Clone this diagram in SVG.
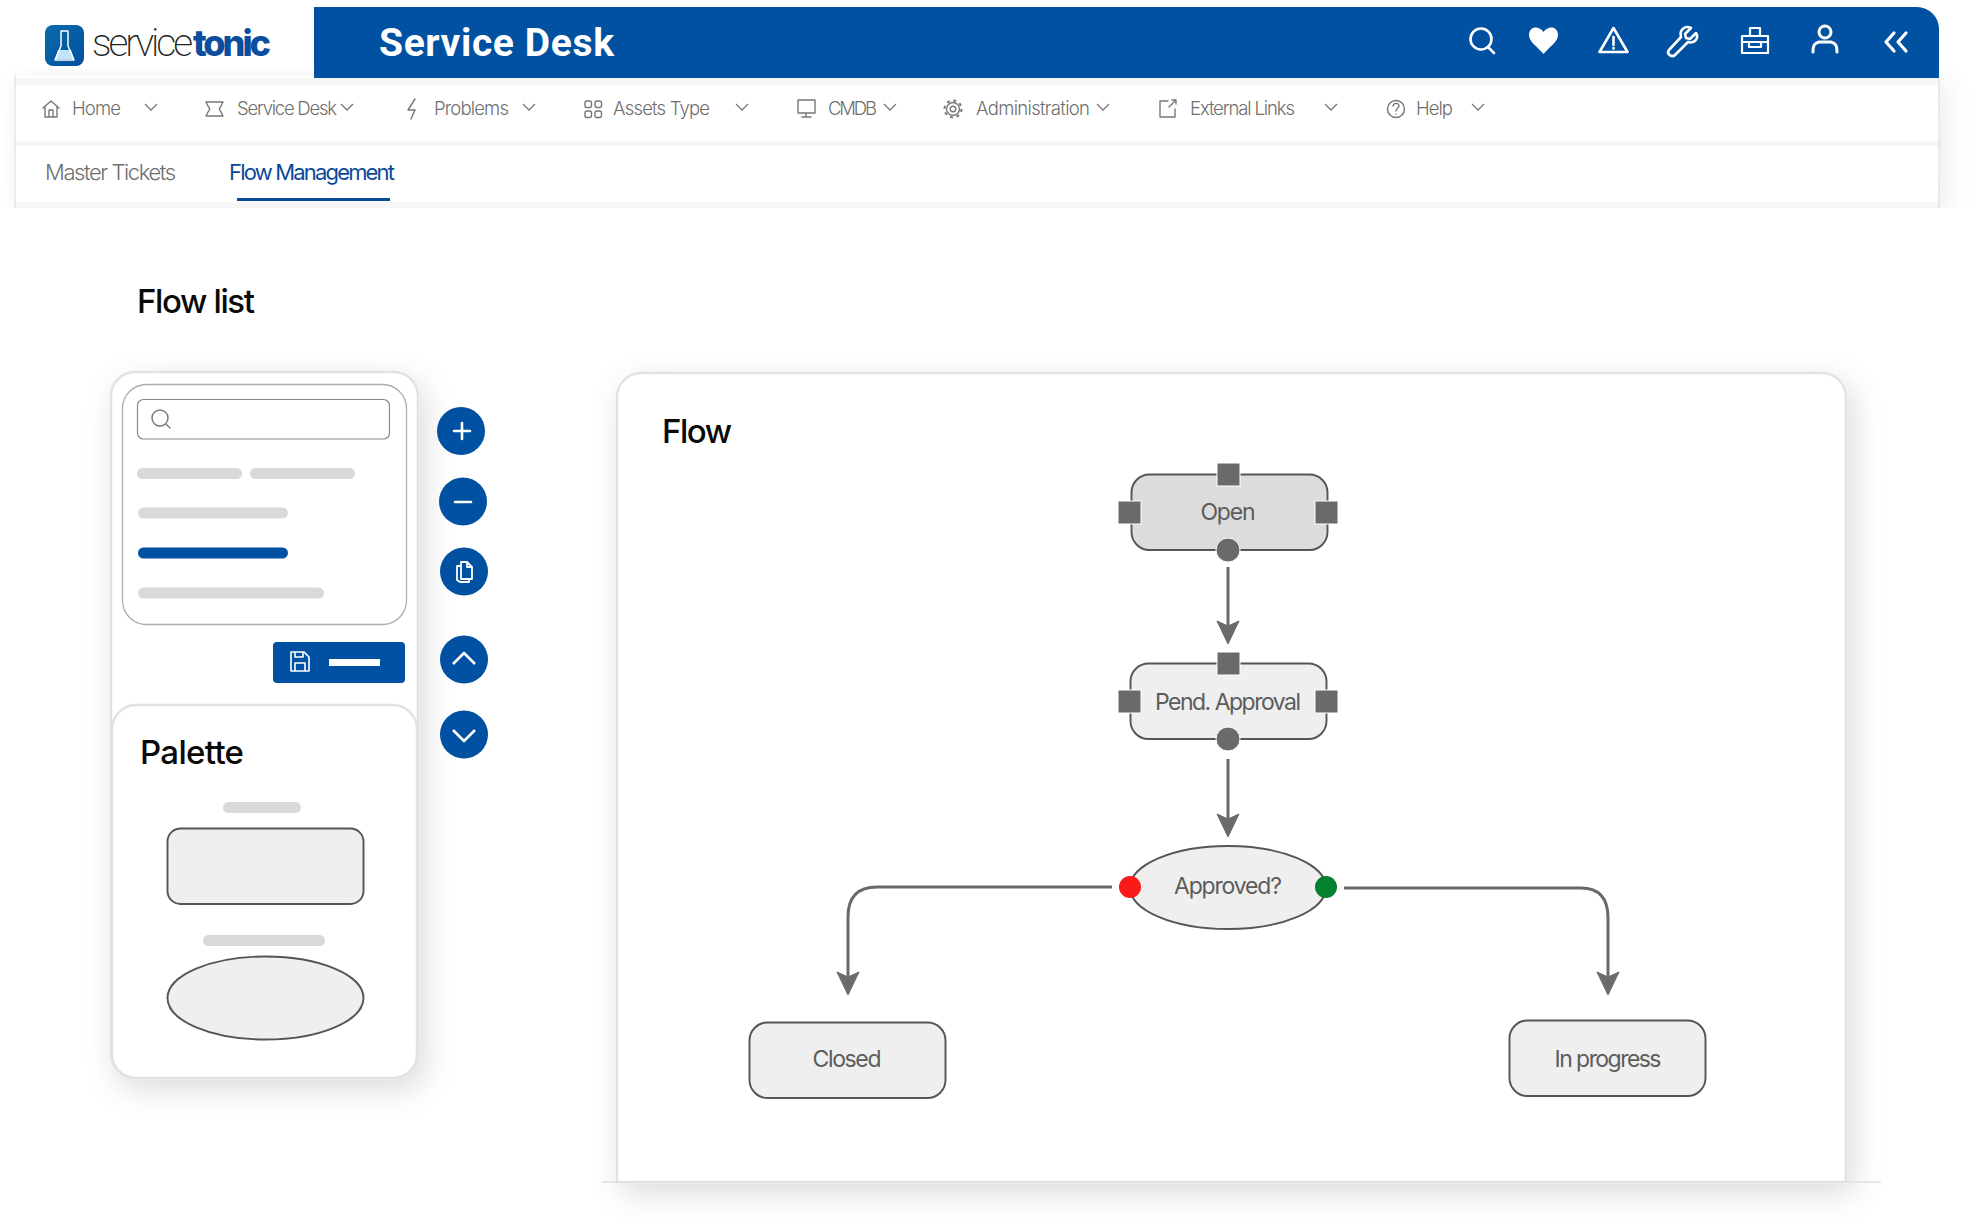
<svg xmlns="http://www.w3.org/2000/svg" width="1974" height="1218" viewBox="0 0 1974 1218">
<style>
text{font-family:"Inter","Liberation Sans",sans-serif}
.nav{font-size:18.5px;fill:#6f6f6f;font-weight:300}
.ic{fill:none;stroke:#777;stroke-width:1.4;stroke-linecap:round;stroke-linejoin:round}
.chev{fill:none;stroke:#777;stroke-width:1.3}
.w{fill:none;stroke:#fff;stroke-width:2.6;stroke-linecap:round;stroke-linejoin:round}
.h{font-weight:500;fill:#0a0a0a}
.bar{fill:#d9d9d9}
.node{fill:#efefef;stroke:#555;stroke-width:1.9}
.lb{font-size:23px;fill:#5c5c5c;text-anchor:middle}
.port{fill:#6a6a6a;stroke:#fff;stroke-width:1}
.btn{fill:#0051a2}
.conn{fill:none;stroke:#6a6a6a;stroke-width:3}
</style>
<defs>
<filter id="sh" x="-20%" y="-20%" width="140%" height="140%"><feDropShadow dx="6" dy="10" stdDeviation="15" flood-color="#000" flood-opacity=".14"/></filter>
<filter id="sh2" x="-5%" y="-5%" width="110%" height="110%"><feDropShadow dx="6" dy="6" stdDeviation="14" flood-color="#000" flood-opacity=".08"/></filter>
<linearGradient id="lg" x1="0" y1="0" x2="1" y2="1"><stop offset="0" stop-color="#0a6cab"/><stop offset="1" stop-color="#004f9f"/></linearGradient>
<marker id="ah" viewBox="0 0 24 24" refX="16" refY="12" markerWidth="24" markerHeight="24" markerUnits="userSpaceOnUse" orient="auto"><path d="M1 1L24 12L1 23L6 12Z" fill="#6a6a6a" stroke="#6a6a6a" stroke-width="1" stroke-linejoin="round"/></marker>
</defs>
<rect width="1974" height="1218" fill="#fff"/>

<g id="navbar">
<rect x="15" y="76" width="1924" height="132" fill="#fff" filter="url(#sh2)"/>
<rect x="15" y="78" width="1924" height="7" fill="#f6f6f6"/>
<rect x="15" y="141" width="1924" height="5" fill="#f6f6f6"/>
<rect x="15" y="202" width="1924" height="6" fill="#f6f6f6"/>
<rect x="0" y="208" width="1974" height="60" fill="#fff"/>
<path d="M15 75V208M1939 78V208" stroke="#dedede" stroke-width="1.100" fill="none"/>
<path class="ic" d="M43 108l8-7 8 7M45 106v11h12v-11M49 117v-7h4v7"/>
<text class="nav" x="72" y="115" textLength="49">Home</text>
<path class="chev" d="M145 104l6 6 6-6"/>
<path class="ic" d="M206 102h17l-2 4c-2 2-2 4 0 6l2 4h-17l2-4c2-2 2-4 0-6z"/>
<text class="nav" x="237" y="115" textLength="100">Service Desk</text>
<path class="chev" d="M341 104l6 6 6-6"/>
<path class="ic" d="M415 99l-7 11h7l-4 9"/>
<text class="nav" x="434" y="115" textLength="75">Problems</text>
<path class="chev" d="M523 104l6 6 6-6"/>
<rect class="ic" x="585" y="101" width="6.500" height="6.500" rx="2"/><rect class="ic" x="595" y="101" width="6.500" height="6.500" rx="2"/><rect class="ic" x="585" y="111" width="6.500" height="6.500" rx="2"/><rect class="ic" x="595" y="111" width="6.500" height="6.500" rx="2"/>
<text class="nav" x="613" y="115" textLength="97">Assets Type</text>
<path class="chev" d="M736 104l6 6 6-6"/>
<path class="ic" d="M798 100h17v13h-17zM806 113v4M802 117h9"/>
<text class="nav" x="828" y="115" textLength="49">CMDB</text>
<path class="chev" d="M884 104l6 6 6-6"/>
<circle class="ic" cx="953" cy="109" r="2.800"/><circle class="ic" cx="953" cy="109" r="6.500"/><circle cx="953" cy="109" r="8.500" fill="none" stroke="#777" stroke-width="2" stroke-dasharray="3 3.680"/>
<text class="nav" x="976" y="115" textLength="114">Administration</text>
<path class="chev" d="M1097 104l6 6 6-6"/>
<path class="ic" d="M1168 101h-8v16h15v-8M1169 107l7-7M1172 100h4v4"/>
<text class="nav" x="1190" y="115" textLength="105">External Links</text>
<path class="chev" d="M1325 104l6 6 6-6"/>
<circle class="ic" cx="1396" cy="109" r="8.500"/><path class="ic" d="M1393 106c1-4 6-3 6 0 0 2-3 2-3 5M1396 114v.1"/>
<text class="nav" x="1416" y="115" textLength="37">Help</text>
<path class="chev" d="M1472 104l6 6 6-6"/>
<text x="45" y="179.500" font-size="22" font-weight="300" fill="#6f6f6f" textLength="131">Master Tickets</text>
<text x="229" y="179.500" font-size="22" fill="#0b4a9a" textLength="166">Flow Management</text>
<rect x="237" y="198" width="153" height="3" fill="#0b4a9a"/>
</g>

<g id="header">
<path d="M314 7H1917a22 22 0 0 1 22 22V78H314Z" fill="#0051a2"/>
<text x="379" y="55.500" font-size="39" font-weight="700" fill="#fff" style="font-family:Roboto,'Liberation Sans',sans-serif" textLength="235">Service Desk</text>
<circle class="w" cx="1481" cy="39" r="10.500"/><path class="w" d="M1488 47l6 6"/>
<path d="M1543.500 54C1537 46 1529 42 1529 35c0-9 10-10 14.500-3 4.500-7 14.500-6 14.500 3 0 7-8 11-14.500 19z" fill="#fff"/>
<path class="w" d="M1613.500 28l14 24h-28zM1613.500 37v8M1613.500 48v.5"/>
<path class="w" d="M1696 33l-6 6-4-1-1-4 6-6c-6-3-12 2-10 9l-12 13c-3 4 3 8 6 5l13-13c7 2 11-4 8-9z"/>
<path class="w" d="M1742 36h26v17h-26zM1750 36v-8h10v8M1742 42h26M1749 42v5h12v-5" style="stroke-width:2.200"/>
<circle class="w" cx="1825" cy="32" r="6" style="stroke-width:3"/><path class="w" d="M1813 52c0-6 1-9 6-10h12c5 1 6 4 6 10" style="stroke-width:3"/>
<path class="w" d="M1894 33l-8 9 8 9M1906 33l-8 9 8 9" style="stroke-width:3.200"/>
</g>

<g id="logo">
<rect x="45" y="25" width="39" height="41" rx="8" fill="url(#lg)"/>
<path d="M58 50h13l3 9H55z" fill="#bfe6f7"/>
<path d="M61 31h7v15l6 14H55l6-14z" fill="none" stroke="#fff" stroke-width="1.500" stroke-linejoin="round"/>
<text x="92" y="55.500" font-size="39" font-weight="200" style="font-family:Roboto,sans-serif" fill="#222" textLength="101">service</text>
<text x="193" y="55.500" font-size="36" font-weight="800" fill="#0b4e9e" textLength="78">tonic</text>
</g>

<text class="h" x="137" y="313" font-size="33" textLength="118" id="title-flow-list">Flow list</text>

<g id="flow-list">
<rect x="111" y="372" width="307" height="706" rx="24" fill="#fff" stroke="#e2e2e2" stroke-width="2.500" filter="url(#sh)"/>
<rect x="122.500" y="384.500" width="284" height="240" rx="24" fill="#fff" stroke="#adadad" stroke-width="1.300"/>
<rect x="137.500" y="399.500" width="252" height="39.500" rx="6" fill="#fff" stroke="#8a8a8a" stroke-width="1.200"/>
<circle class="ic" cx="160" cy="418" r="8"/><path class="ic" d="M166 424l4 4"/>
<rect class="bar" x="137" y="468" width="105" height="11" rx="5.500"/>
<rect class="bar" x="250" y="468" width="105" height="11" rx="5.500"/>
<rect class="bar" x="138" y="507.500" width="150" height="11" rx="5.500"/>
<rect x="138" y="547.500" width="150" height="11" rx="5.500" fill="#0051a2"/>
<rect class="bar" x="138" y="587.500" width="186" height="11" rx="5.500"/>
<rect x="273" y="642" width="132" height="41" rx="4" fill="#0051a2"/>
<path class="w" d="M291 652h13l5 5v14h-18zM295 652v5h8v-5M295 671v-8h10v8" style="stroke-width:1.600"/>
<rect x="329" y="659" width="51" height="7" fill="#fff"/>
</g>

<g id="palette">
<rect x="112" y="705" width="305" height="373" rx="24" fill="#fff" stroke="#e2e2e2" stroke-width="2.500"/>
<text class="h" x="140" y="763.500" font-size="33" textLength="104">Palette</text>
<rect class="bar" x="223" y="802" width="78" height="11" rx="5.500"/>
<rect class="node" x="167.500" y="828.500" width="196" height="75.500" rx="13"/>
<rect class="bar" x="203" y="935" width="122" height="11" rx="5.500"/>
<ellipse class="node" cx="265.500" cy="998" rx="98" ry="41.500"/>
</g>

<g id="btn-add"><circle class="btn" cx="461" cy="431" r="24"/><path class="w" d="M462 423v16M454 431h16"/></g>
<g id="btn-remove"><circle class="btn" cx="463" cy="501.500" r="24"/><path class="w" d="M455 502h16"/></g>
<g id="btn-copy"><circle class="btn" cx="464" cy="571.500" r="24"/><path class="w" style="stroke-width:1.800" d="M461 562h6l5 5v12h-11zM467 562v5h5M461 566h-4v14l3 2h9v-3"/></g>
<g id="btn-up"><circle class="btn" cx="464" cy="659.500" r="24"/><path class="w" d="M453 664l11-11 11 11" style="stroke-linecap:butt"/></g>
<g id="btn-down"><circle class="btn" cx="464" cy="734.500" r="24"/><path class="w" d="M453 730l11 11 11-11" style="stroke-linecap:butt"/></g>

<g id="flow-panel">
<path d="M617 1182V397a24 24 0 0 1 24-24H1822a24 24 0 0 1 24 24V1182Z" fill="#fff" stroke="#e2e2e2" stroke-width="2.500" filter="url(#sh)"/>
<path d="M602 1182H1881" stroke="#e0e0e0" stroke-width="1.500"/>
<text class="h" x="662" y="443" font-size="33" textLength="70">Flow</text>
</g>

<g id="connectors">
<path class="conn" d="M1228 567V636" marker-end="url(#ah)"/>
<path class="conn" d="M1228 759V829" marker-end="url(#ah)"/>
<path class="conn" d="M1112 887H877Q848 887 848 917V987" marker-end="url(#ah)"/>
<path class="conn" d="M1344 888H1581Q1608 888 1608 918V987" marker-end="url(#ah)"/>
</g>

<g id="node-open">
<rect class="node" x="1131.500" y="474.500" width="196" height="75.500" rx="18" style="fill:#dcdcdc"/>
<text class="lb" x="1228" y="519.500" textLength="55">Open</text>
<rect class="port" x="1217" y="463" width="23" height="23"/>
<rect class="port" x="1118" y="501" width="23" height="23"/>
<rect class="port" x="1315" y="501" width="23" height="23"/>
<circle class="port" cx="1228" cy="550" r="12"/>
</g>
<g id="node-pend-approval">
<rect class="node" x="1130.500" y="663.500" width="196" height="75.500" rx="18"/>
<text class="lb" x="1228" y="710" textLength="146">Pend. Approval</text>
<rect class="port" x="1217" y="652" width="23" height="23"/>
<rect class="port" x="1118" y="690" width="23" height="23"/>
<rect class="port" x="1315" y="690" width="23" height="23"/>
<circle class="port" cx="1228" cy="739" r="12"/>
</g>
<g id="node-approved">
<ellipse class="node" cx="1228" cy="887.500" rx="98" ry="41.500"/>
<text class="lb" x="1228" y="893.500" textLength="108">Approved?</text>
<circle cx="1130" cy="887" r="11" fill="#fb1a1a"/>
<circle cx="1326" cy="887" r="11" fill="#03812f"/>
</g>
<g id="node-closed">
<rect class="node" x="749.500" y="1022.500" width="196" height="75.500" rx="18"/>
<text class="lb" x="847" y="1067" textLength="69">Closed</text>
</g>
<g id="node-in-progress">
<rect class="node" x="1509.500" y="1020.500" width="196" height="75.500" rx="18"/>
<text class="lb" x="1608" y="1066.500" textLength="107">In progress</text>
</g>
</svg>
